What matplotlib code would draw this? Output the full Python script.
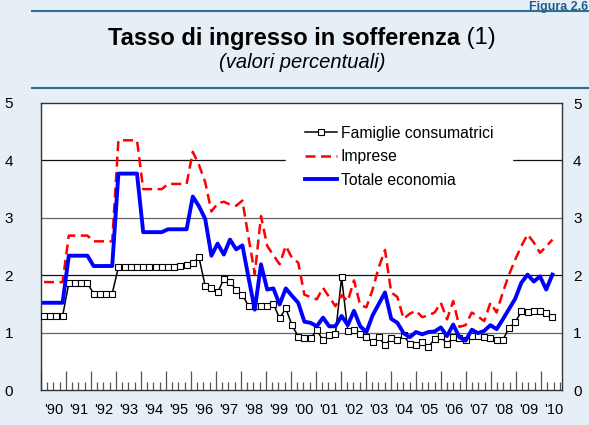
import numpy as np
import matplotlib
matplotlib.use("Agg")
import matplotlib.pyplot as plt
from matplotlib.lines import Line2D

plt.rcParams["font.family"] = ["Liberation Sans", "DejaVu Sans"]

# quarterly data, 1990Q1 - 2010Q3
famiglie = [1.29, 1.29, 1.29, 1.29, 1.86, 1.86, 1.86, 1.86, 1.68, 1.68, 1.68, 1.68,
            2.14, 2.14, 2.14, 2.14, 2.14, 2.14, 2.14, 2.14, 2.15, 2.15, 2.16, 2.17,
            2.21, 2.31, 1.81, 1.78, 1.70, 1.93, 1.89, 1.74, 1.66, 1.46, 1.46, 1.46,
            1.46, 1.50, 1.25, 1.42, 1.13, 0.93, 0.90, 0.90, 1.04, 0.87, 0.95, 0.97,
            1.96, 1.03, 1.05, 0.97, 0.92, 0.84, 0.92, 0.78, 0.90, 0.87, 0.95, 0.80,
            0.78, 0.84, 0.75, 0.89, 0.94, 0.80, 0.92, 0.90, 0.87, 0.94, 0.94, 0.93,
            0.90, 0.87, 0.87, 1.08, 1.18, 1.37, 1.36, 1.38, 1.38, 1.35, 1.27]
imprese = [1.88, 1.88, 1.88, 1.88, 2.69, 2.69, 2.69, 2.69, 2.59, 2.59, 2.59, 2.59,
           4.35, 4.35, 4.35, 4.35, 3.50, 3.50, 3.50, 3.50, 3.59, 3.59, 3.59, 3.59,
           4.15, 3.92, 3.62, 3.11, 3.25, 3.28, 3.23, 3.21, 3.30, 2.65, 2.02, 3.03,
           2.51, 2.35, 2.19, 2.51, 2.30, 2.22, 1.66, 1.62, 1.58, 1.78, 1.62, 1.46,
           1.65, 1.55, 1.91, 1.48, 1.44, 1.75, 2.14, 2.44, 1.70, 1.62, 1.24, 1.33,
           1.38, 1.27, 1.30, 1.35, 1.52, 1.23, 1.55, 1.10, 1.13, 1.35, 1.28, 1.20,
           1.52, 1.35, 1.70, 2.01, 2.27, 2.51, 2.71, 2.57, 2.39, 2.50, 2.62]
totale = [1.52, 1.52, 1.52, 1.52, 2.34, 2.34, 2.34, 2.34, 2.16, 2.16, 2.16, 2.16,
          3.77, 3.77, 3.77, 3.77, 2.75, 2.75, 2.75, 2.75, 2.80, 2.80, 2.80, 2.80,
          3.37, 3.20, 2.98, 2.34, 2.55, 2.36, 2.62, 2.45, 2.52, 1.95, 1.40, 2.19,
          1.75, 1.77, 1.49, 1.77, 1.64, 1.52, 1.19, 1.17, 1.11, 1.26, 1.11, 1.11,
          1.29, 1.13, 1.38, 1.11, 1.01, 1.30, 1.50, 1.70, 1.24, 1.17, 0.99, 0.92,
          1.01, 0.97, 1.01, 1.02, 1.09, 0.94, 1.14, 0.92, 0.86, 1.05, 0.99, 1.03,
          1.13, 1.06, 1.23, 1.41, 1.59, 1.87, 2.01, 1.89, 1.98, 1.75, 2.01]
anni = list(range(1990, 2011))
etichette = ["'%02d" % (a % 100) for a in anni]

n = len(totale)
x = 1990.12 + np.arange(n) * 0.248

bg = "#e6eef6"
teal = "#2f6f8f"

fig = plt.figure(figsize=(5.89, 4.25), dpi=100, facecolor=bg)
ax = fig.add_axes([41 / 589, 35 / 425, 521 / 589, 287 / 425])
ax.set_facecolor("white")

# header band
fig.add_artist(Line2D([0.055, 1], [1 - 11 / 425] * 2, color=teal, lw=1.5))
fig.add_artist(Line2D([0.055, 1], [1 - 88 / 425] * 2, color=teal, lw=1.5))
fig.text(0.998, 1 - 1 / 425, "Figura 2.6", color="#1f5f8f", fontsize=9,
         fontweight="bold", ha="right", va="top")

t1 = fig.text(0, 1 - 38 / 425, "Tasso di ingresso in sofferenza",
              fontsize=17, fontweight="bold", ha="left", va="center")
t2 = fig.text(0, 1 - 38 / 425, " (1)", fontsize=17, ha="left", va="center")
fig.canvas.draw()
r = fig.canvas.get_renderer()
w1 = t1.get_window_extent(r).width
w2 = t2.get_window_extent(r).width
x0 = 302 - (w1 + w2) / 2
t1.set_x(x0 / 589)
t2.set_x((x0 + w1) / 589)
fig.text(302 / 589, 1 - 62 / 425, "(valori percentuali)", fontsize=14.5,
         style="italic", ha="center", va="center")

# grid
for v, c in zip([1, 2, 3, 4], ["#666666", "#111111", "#666666", "#111111"]):
    ax.axhline(v, color=c, lw=0.9, zorder=1)

ax.plot(x, famiglie, color="black", lw=1.1, marker="s", markersize=3.8,
        markerfacecolor="white", markeredgecolor="black", markeredgewidth=0.8,
        label="Famiglie consumatrici", zorder=3)
ax.plot(x, imprese, color="#ff0000", lw=1.8, dashes=(4, 2.2),
        label="Imprese", zorder=3)
ax.plot(x, totale, color="#0000ff", lw=2.8, label="Totale economia", zorder=4)

ax.set_xlim(1990, 2010.84)
ax.set_ylim(0, 5)
ax.set_yticks(range(6))
ax.tick_params(axis="y", length=0, labelsize=11, pad=20)

ax.set_xticks(anni)
ax.set_xticks(np.arange(1990, 2010.8, 0.25), minor=True)
ax.tick_params(axis="x", which="major", direction="in", length=14, width=0.9,
               color="#555555", labelbottom=False)
ax.tick_params(axis="x", which="minor", direction="in", length=6, width=0.9,
               color="#555555")

sec = ax.secondary_xaxis("bottom")
sec.set_xticks([a + 0.5 for a in anni], etichette)
sec.tick_params(length=0, labelsize=10.5, pad=9)
sec.spines["bottom"].set_visible(False)

for s in ["left", "right", "top", "bottom"]:
    ax.spines[s].set_color("#333333")
    ax.spines[s].set_linewidth(1.0)

ax2 = ax.twinx()
ax2.set_ylim(0, 5)
ax2.set_yticks(range(6))
ax2.tick_params(axis="y", length=0, labelsize=11, pad=8)
for s in ax2.spines.values():
    s.set_visible(False)

leg = ax.legend(loc="upper left", bbox_to_anchor=(0.470, 0.987), borderaxespad=0,
                frameon=True, fancybox=False, edgecolor="white",
                facecolor="white", framealpha=1, fontsize=11.3,
                handlelength=2.05, handletextpad=0.25, labelspacing=0.55,
                borderpad=1.2)
leg.set_zorder(5)

fig.savefig("out.png", dpi=100, facecolor=bg)
